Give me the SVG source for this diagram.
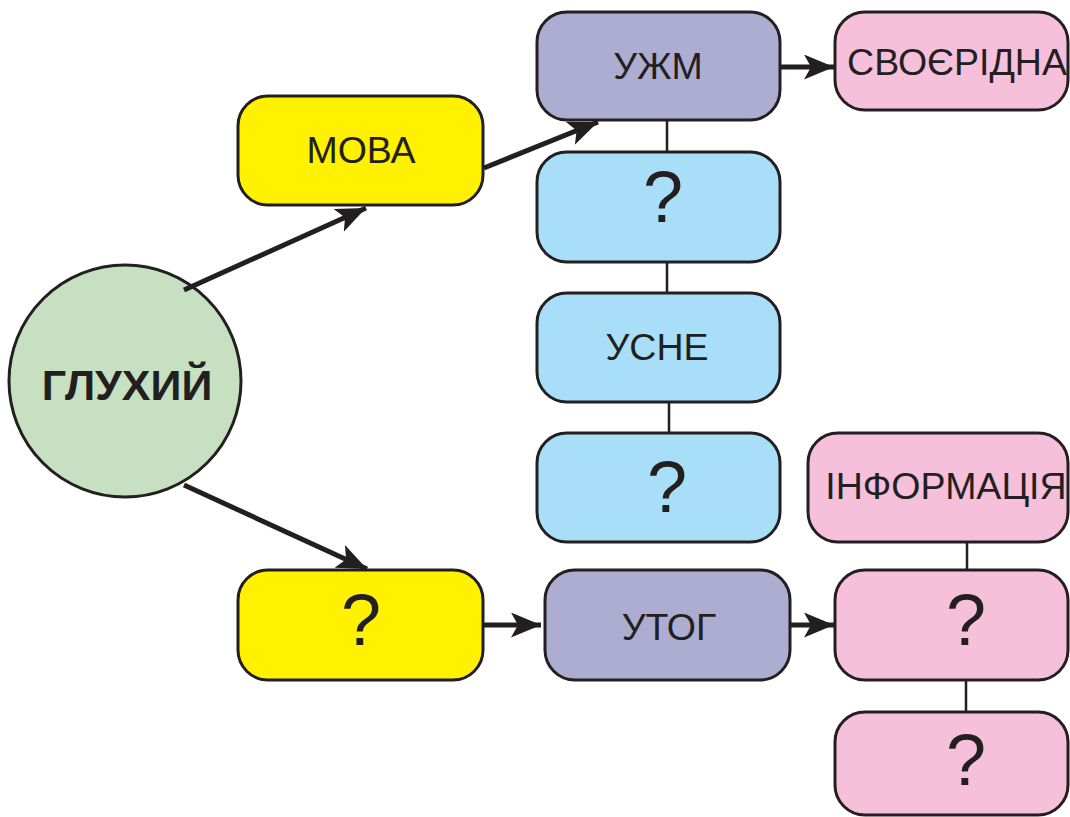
<svg xmlns="http://www.w3.org/2000/svg" width="1070" height="817" viewBox="0 0 1070 817">
<defs>
<style>
.box{stroke:#231f20;stroke-width:3}
.yellow{fill:#fff100}
.purple{fill:#adadd2}
.blue{fill:#a9def8}
.pink{fill:#f6bfda}
.green{fill:#c7e0c1}
.t{font-family:"Liberation Sans",Arial,sans-serif;font-size:37.5px;fill:#231f20;text-anchor:middle}
.q{font-family:"Liberation Sans",Arial,sans-serif;font-size:72px;fill:#231f20;text-anchor:middle}
.b{font-family:"Liberation Sans",Arial,sans-serif;font-size:43px;font-weight:bold;fill:#231f20;text-anchor:middle}
.arrow{stroke:#231f20;stroke-width:5;fill:none;marker-end:url(#ah)}
.link{stroke:#231f20;stroke-width:2.5;fill:none}
</style>
<marker id="ah" markerUnits="userSpaceOnUse" markerWidth="32" markerHeight="26" refX="30" refY="12.5" orient="auto" viewBox="0 0 32 26">
<path d="M0,0 L30,12.5 L0,25 L7,12.5 z" fill="#231f20"/>
</marker>
</defs>

<g id="node-gluhyi">
<circle class="box green" cx="125" cy="381" r="116"/>
<text class="b" x="127" y="400">ГЛУХИЙ</text>
</g>

<g id="node-mova">
<rect class="box yellow" x="238" y="96" width="245" height="109" rx="30"/>
<text class="t" x="361" y="163">МОВА</text>
</g>

<g id="node-q-yellow">
<rect class="box yellow" x="238" y="570" width="245" height="110" rx="30"/>
<text class="q" x="361" y="645">?</text>
</g>

<g id="node-uzhm">
<rect class="box purple" x="537" y="12" width="243" height="108" rx="30"/>
<text class="t" x="658" y="79">УЖМ</text>
</g>

<g id="node-q-blue1">
<rect class="box blue" x="537" y="152" width="243" height="110" rx="30"/>
<text class="q" x="663" y="222">?</text>
</g>

<g id="node-usne">
<rect class="box blue" x="537" y="293" width="243" height="109" rx="30"/>
<text class="t" x="657" y="360">УСНЕ</text>
</g>

<g id="node-q-blue2">
<rect class="box blue" x="537" y="433" width="243" height="109" rx="30"/>
<text class="q" x="667" y="512">?</text>
</g>

<g id="node-utog">
<rect class="box purple" x="545" y="570" width="245" height="110" rx="30"/>
<text class="t" x="669" y="640">УТОГ</text>
</g>

<g id="node-svoeridna">
<rect class="box pink" x="835" y="12" width="233" height="98" rx="30"/>
<text class="t" x="957" y="75">СВОЄРІДНА</text>
</g>

<g id="node-informatsiia">
<rect class="box pink" x="808" y="433" width="260" height="109" rx="30"/>
<text class="t" x="946" y="499">ІНФОРМАЦІЯ</text>
</g>

<g id="node-q-pink1">
<rect class="box pink" x="835" y="570" width="233" height="110" rx="30"/>
<text class="q" x="966" y="645">?</text>
</g>

<g id="node-q-pink2">
<rect class="box pink" x="835" y="712" width="233" height="103" rx="30"/>
<text class="q" x="966" y="785">?</text>
</g>

<g id="connectors">
<line class="arrow" x1="184" y1="290" x2="366" y2="208"/>
<line class="arrow" x1="484" y1="168" x2="598" y2="122"/>
<line class="arrow" x1="781" y1="67" x2="834" y2="67"/>
<line class="arrow" x1="184" y1="485" x2="367" y2="569"/>
<line class="arrow" x1="484" y1="625" x2="541" y2="625"/>
<line class="arrow" x1="790" y1="625" x2="834" y2="625"/>
<line class="link" x1="667" y1="121" x2="667" y2="151"/>
<line class="link" x1="667" y1="263" x2="667" y2="292"/>
<line class="link" x1="669" y1="403" x2="669" y2="432"/>
<line class="link" x1="967" y1="543" x2="967" y2="569"/>
<line class="link" x1="966" y1="681" x2="966" y2="711"/>
</g>
</svg>
